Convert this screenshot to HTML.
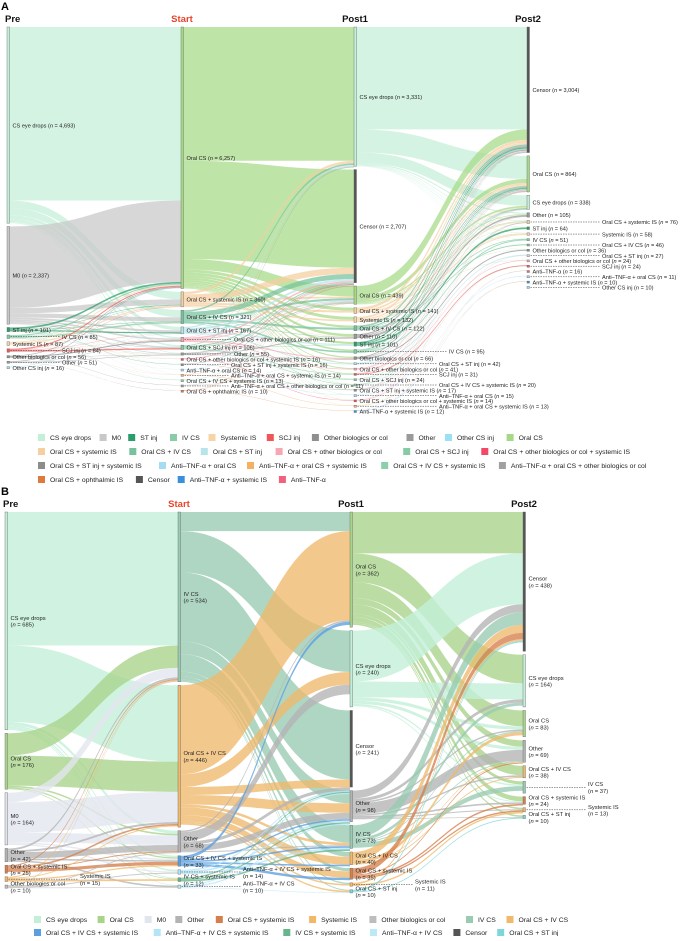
<!DOCTYPE html>
<html><head><meta charset="utf-8">
<style>
html,body{margin:0;padding:0;background:#fff;}
body{width:685px;height:936px;overflow:hidden;font-family:"Liberation Sans",sans-serif;}
svg text{font-family:"Liberation Sans",sans-serif;}
</style></head>
<body>
<svg id="chart" width="685" height="936" viewBox="0 0 685 936" xmlns="http://www.w3.org/2000/svg">
<text x="1" y="10" font-size="11" font-weight="bold">A</text>
<text x="1" y="495" font-size="11" font-weight="bold">B</text>
<g id="gA"></g>
<g id="gB"></g>
</svg>
<script>
// ---------- Panel A data ----------
const aPreNames=["CS eye drops","M0","ST inj","IV CS","Systemic IS","SCJ inj","Other biologics or col","Other","Other CS inj"];
const aPreValues=[4693,2337,101,85,87,84,56,51,16];
const aStartNames=["Oral CS","Oral CS + systemic IS","Oral CS + IV CS","Oral CS + ST inj","Oral CS + other biologics or col","Oral CS + SCJ inj","Other","Oral CS + other biologics or col + systemic IS","Oral CS + ST inj + systemic IS","Anti–TNF-α + oral CS","Anti–TNF-α + oral CS + systemic IS","Oral CS + IV CS + systemic IS","Anti–TNF-α + oral CS + other biologics or col","Oral CS + ophthalmic IS"];
const aStartValues=[6257,360,321,167,111,106,55,16,16,14,14,13,11,10];
const aPost1Names=["CS eye drops","Censor","Oral CS","Oral CS + systemic IS","Systemic IS","Oral CS + IV CS","Other","ST inj","IV CS","Other biologics or col","Oral CS + ST inj","Oral CS + other biologics or col","SCJ inj","Oral CS + SCJ inj","Oral CS + IV CS + systemic IS","Oral CS + ST inj + systemic IS","Anti–TNF-α + oral CS","Oral CS + other biologics or col + systemic IS","Anti–TNF-α + oral CS + systemic IS","Anti–TNF-α + systemic IS"];
const aPost1Values=[3331,2707,439,141,132,122,110,101,95,66,42,41,31,24,20,17,15,14,13,12];
const aPost2Names=["Censor","Oral CS","CS eye drops","Other","Oral CS + systemic IS","ST inj","Systemic IS","IV CS","Oral CS + IV CS","Other biologics or col","Oral CS + ST inj","Oral CS + other biologics or col","SCJ inj","Anti–TNF-α","Anti–TNF-α + oral CS","Anti–TNF-α + systemic IS","Other CS inj"];
const aPost2Values=[3004,864,338,105,76,64,58,51,46,36,27,24,24,16,11,10,10];
// flows: [sourceIndex, targetIndex, patients]
const aFlowPreStart=[[0,0,4150],[0,1,180],[0,2,170],[0,3,80],[0,4,30],[0,5,40],[0,6,15],[0,7,5],[0,8,5],[0,9,5],[0,10,5],[0,11,4],[0,12,2],[0,13,2],
[1,0,1950],[1,1,130],[1,2,100],[1,3,50],[1,4,40],[1,5,30],[1,6,20],[1,7,5],[1,8,4],[1,9,3],[1,10,3],[1,11,2],
[2,0,40],[2,1,10],[2,2,10],[2,3,30],[2,5,5],[2,8,6],[3,0,30],[3,1,8],[3,2,35],[3,6,5],[3,11,7],
[4,0,20],[4,1,30],[4,2,5],[4,6,5],[4,7,5],[4,10,5],[5,0,25],[5,1,5],[5,3,5],[5,4,5],[5,5,30],
[6,0,15],[6,4,25],[6,6,5],[6,12,6],[7,0,15],[7,4,5],[7,6,10],[7,13,5],[8,0,8],[8,3,5]];
const aFlowStartPost1=[[0,0,3200],[0,1,2350],[0,2,250],[0,3,70],[0,4,70],[0,5,50],[0,6,60],[0,7,50],[0,8,40],[0,9,30],[0,10,20],[0,11,20],[0,12,15],[0,13,10],[0,14,8],[0,15,5],[0,16,5],[0,17,4],
[1,0,60],[1,1,150],[1,2,40],[1,3,50],[1,4,40],[1,6,10],[1,17,5],[1,18,5],
[2,0,40],[2,1,120],[2,2,50],[2,5,50],[2,6,11],[2,8,40],[2,14,10],
[3,0,30],[3,1,50],[3,2,30],[3,7,30],[3,10,20],[3,15,7],
[4,0,10],[4,1,35],[4,2,20],[4,6,6],[4,9,25],[4,11,15],
[5,0,20],[5,1,30],[5,2,20],[5,7,7],[5,12,15],[5,13,14],
[6,1,15],[6,2,10],[6,6,20],[6,9,10],[7,1,8],[7,17,8],[8,1,8],[8,15,8],[9,1,6],[9,16,8],[10,1,6],[10,18,8],[11,1,6],[11,14,7],[12,1,6],[12,9,5],[13,1,5],[13,2,5],[13,19,5]];
const aFlowPost1Post2=[[0,0,2450],[0,1,550],[0,2,250],[0,3,30],[0,4,15],[0,5,10],[0,6,10],[0,7,5],[0,8,5],[0,9,5],[0,10,1],
[2,0,250],[2,1,100],[2,2,40],[2,3,15],[2,4,10],[2,5,5],[2,6,5],[2,8,4],[2,9,5],[2,11,5],
[3,0,60],[3,1,40],[3,2,5],[3,4,20],[3,6,10],[4,0,50],[4,1,30],[4,2,10],[4,3,10],[4,6,25],
[5,0,40],[5,1,30],[5,2,10],[5,7,15],[5,8,20],[6,0,30],[6,1,20],[6,2,10],[6,3,40],
[7,0,30],[7,1,20],[7,2,5],[7,5,40],[8,0,30],[8,1,20],[8,2,10],[8,7,25],
[9,0,20],[9,1,10],[9,3,5],[9,9,25],[10,0,10],[10,1,10],[10,10,20],[11,0,10],[11,1,10],[11,11,15],
[12,0,5],[12,1,5],[12,12,20],[13,0,5],[13,1,5],[13,2,5],[13,12,4],[14,0,4],[14,1,5],[14,4,8],
[15,0,4],[15,1,5],[15,4,5],[15,10,3],[16,0,3],[16,14,10],[17,0,3],[17,1,4],[17,4,5],[18,0,3],[18,13,5],[18,15,5],[19,0,3],[19,13,4],[19,15,5]];

// ---------- Panel B data ----------
const bPreNames=["CS eye drops","Oral CS","M0","Other","Oral CS + systemic IS","Systemic IS","Other biologics or col"];
const bPreValues=[685,176,164,42,25,15,10];
const bStartNames=["IV CS","Oral CS + IV CS","Other","Oral CS + IV CS + systemic IS","Anti–TNF-α + IV CS + systemic IS","IV CS + systemic IS","Anti–TNF-α + IV CS"];
const bStartValues=[534,446,68,33,14,12,10];
const bPost1Names=["Oral CS","CS eye drops","Censor","Other","IV CS","Oral CS + IV CS","Oral CS + systemic IS","Systemic IS","Oral CS + ST inj"];
const bPost1Values=[362,240,241,98,73,40,35,11,10];
const bPost2Names=["Censor","CS eye drops","Oral CS","Other","Oral CS + IV CS","IV CS","Oral CS + systemic IS","Systemic IS","Oral CS + ST inj"];
const bPost2Values=[438,164,83,69,38,37,24,13,10];
const bFlowPreStart=[[0,0,420],[0,1,240],[0,2,10],[0,3,5],[0,4,5],[0,5,3],[0,6,2],
[1,0,70],[1,1,95],[1,2,5],[1,3,4],[1,5,2],[2,0,30],[2,1,95],[2,2,30],[2,3,5],[2,4,4],
[3,0,6],[3,1,6],[3,2,20],[3,3,5],[3,6,5],[4,0,3],[4,1,5],[4,2,3],[4,3,10],
[5,0,3],[5,1,3],[5,3,4],[5,5,5],[6,0,2],[6,2,3],[6,4,3],[6,6,2]];
const bFlowStartPost1=[[0,0,60],[0,1,130],[0,2,217],[0,3,40],[0,4,55],[0,5,15],[0,6,10],[0,7,4],[0,8,3],
[1,0,280],[1,1,40],[1,2,25],[1,3,30],[1,4,8],[1,5,25],[1,6,20],[1,7,5],[1,8,5],
[2,0,5],[2,1,30],[2,2,10],[2,3,20],[2,4,3],[3,0,10],[3,3,5],[3,4,5],[3,5,5],[3,6,8],
[4,2,4],[4,3,5],[4,4,5],[5,2,3],[5,3,4],[5,4,5],[6,2,4],[6,3,4],[6,8,2]];
const bFlowPost1Post2=[[0,0,130],[0,1,90],[0,2,50],[0,3,20],[0,4,30],[0,5,10],[0,6,15],[0,7,5],[0,8,5],
[1,0,160],[1,1,50],[1,2,10],[1,3,10],[1,5,5],[1,6,3],
[3,0,25],[3,1,10],[3,2,5],[3,3,35],[3,4,5],[3,6,5],[3,7,3],[3,8,2],
[4,0,40],[4,1,10],[4,2,3],[4,3,3],[4,5,15],[5,0,25],[5,2,10],[5,3,2],[5,4,3],
[6,0,20],[6,3,3],[6,6,5],[6,7,5],[7,0,5],[7,7,5],[8,0,5],[8,8,3]];

const colorsA={"CS eye drops":"#c3efd8","M0":"#c8c8c8","ST inj":"#2a9d6a","IV CS":"#88cca8","Systemic IS":"#f7d3a8","SCJ inj":"#f25555","Other biologics or col":"#8f8f8f","Other":"#9a9a9a","Other CS inj":"#9ddff5","Oral CS":"#a6d985","Oral CS + systemic IS":"#f5cfa0","Oral CS + IV CS":"#76c29c","Oral CS + ST inj":"#b7e3ea","Oral CS + other biologics or col":"#f7a6b4","Oral CS + SCJ inj":"#86cba5","Oral CS + other biologics or col + systemic IS":"#f04a68","Oral CS + ST inj + systemic IS":"#8c8c8c","Anti–TNF-α + oral CS":"#a4dcf6","Anti–TNF-α + oral CS + systemic IS":"#f4b063","Oral CS + IV CS + systemic IS":"#8bcfac","Anti–TNF-α + oral CS + other biologics or col":"#a0a0a0","Oral CS + ophthalmic IS":"#df7a3e","Censor":"#555555","Anti–TNF-α + systemic IS":"#3a8fdc","Anti–TNF-α":"#f2607c"};
const colorsB={"CS eye drops":"#c3efd8","Oral CS":"#a8d48a","M0":"#e3e5ee","Other":"#b3b3b3","Oral CS + systemic IS":"#d67f4b","Systemic IS":"#f2b868","Other biologics or col":"#bdbdbd","IV CS":"#98cbb2","Oral CS + IV CS":"#f0b96c","Oral CS + IV CS + systemic IS":"#5b9fe0","Anti–TNF-α + IV CS + systemic IS":"#b2e5f7","IV CS + systemic IS":"#67b58a","Anti–TNF-α + IV CS":"#bce9f8","Censor":"#555555","Oral CS + ST inj":"#7dd6da"};

const legendA=[["CS eye drops","M0","ST inj","IV CS","Systemic IS","SCJ inj","Other biologics or col","Other","Other CS inj","Oral CS"],
["Oral CS + systemic IS","Oral CS + IV CS","Oral CS + ST inj","Oral CS + other biologics or col","Oral CS + SCJ inj","Oral CS + other biologics or col + systemic IS"],
["Oral CS + ST inj + systemic IS","Anti–TNF-α + oral CS","Anti–TNF-α + oral CS + systemic IS","Oral CS + IV CS + systemic IS","Anti–TNF-α + oral CS + other biologics or col"],
["Oral CS + ophthalmic IS","Censor","Anti–TNF-α + systemic IS","Anti–TNF-α"]];
const legendB=[["CS eye drops","Oral CS","M0","Other","Oral CS + systemic IS","Systemic IS","Other biologics or col","IV CS","Oral CS + IV CS"],
["Oral CS + IV CS + systemic IS","Anti–TNF-α + IV CS + systemic IS","IV CS + systemic IS","Anti–TNF-α + IV CS","Censor","Oral CS + ST inj"]];

const NS="http://www.w3.org/2000/svg";
function mk(tag,attrs,parent){const e=document.createElementNS(NS,tag);for(const k in attrs)e.setAttribute(k,attrs[k]);parent.appendChild(e);return e;}
function fmt(v){return String(v).replace(/\B(?=(\d{3})+(?!\d))/g,",");}

function drawSankey(g,cfg){
  const cols=cfg.cols;
  const layout=cols.map((c,ci)=>{let y=cfg.top;return c.values.map((v,i)=>{const h=Math.max(v*cfg.k,cfg.minH);const n={y:y,h:h,x:cfg.xs[ci],outOff:0,inOff:0,name:c.names[i],v:v};y+=h+cfg.gap;return n;});});
  const linkG=mk('g',{},g);
  
  
  cfg.flows.forEach((flows,fi)=>{
    const S=layout[fi],T=layout[fi+1];
    const sorted=flows.slice().sort((a,b)=>a[0]-b[0]||a[1]-b[1]);
    const pos=sorted.map(f=>{const s=S[f[0]];const y0=s.y+s.outOff;s.outOff+=f[2]*cfg.k;return y0;});
    const order=sorted.map((f,i)=>i).sort((a,b)=>sorted[a][1]-sorted[b][1]||sorted[a][0]-sorted[b][0]);
    const tpos=[];order.forEach(i=>{const t=T[sorted[i][1]];tpos[i]=t.y+t.inOff;t.inOff+=sorted[i][2]*cfg.k;});
    sorted.forEach((f,i)=>{
      const s=S[f[0]],t=T[f[1]],w=f[2]*cfg.k;
      const x0=s.x+cfg.nw,x1=t.x,m=(x0+x1)/2,y0=pos[i],y1=tpos[i];
      const p=mk('path',{d:`M${x0},${y0}C${m},${y0} ${m},${y1} ${x1},${y1}L${x1},${y1+w}C${m},${y1+w} ${m},${y0+w} ${x0},${y0+w}Z`,fill:cfg.colors[s.name]||'#aaa','fill-opacity':cfg.op},linkG);
      
      
    });
  });
  layout.forEach((col,ci)=>{
    col.forEach((n,i)=>{
      const r=mk('rect',{x:n.x,y:n.y,width:cfg.nw,height:n.h,fill:cfg.colors[n.name]||'#999',stroke:'#666','stroke-width':0.4},g);
      
      
      const lead=(cfg.leads[ci]&&cfg.leads[ci][i])||0;
      let lx=n.x+cfg.nw+3;const cy=n.y+n.h/2;
      if(lead>0){const l=mk('line',{x1:n.x+cfg.nw+1,y1:cy,x2:n.x+lead-2,y2:cy,stroke:'#333','stroke-width':0.5,'stroke-dasharray':'1.5,1'},g);
        
        
        lx=n.x+lead;}
      const t=mk('text',{x:lx,y:cfg.twoLine?cy-1:cy+2.2,'font-size':cfg.fs,fill:'#222'},g);
      
      
      if(cfg.twoLine){
        const a=mk('tspan',{x:lx},t);a.textContent=n.name;
        const b=mk('tspan',{x:lx,dy:cfg.fs+1},t);b.textContent='(';
        const it=mk('tspan',{'font-style':'italic'},t);it.textContent='n';
        const c=mk('tspan',{},t);c.textContent=' = '+fmt(n.v)+')';
      } else {
        const a=mk('tspan',{},t);a.textContent=n.name+' (';
        const it=mk('tspan',{'font-style':'italic'},t);it.textContent='n';
        const c=mk('tspan',{},t);c.textContent=' = '+fmt(n.v)+')';
      }
    });
  });
  const heads=["Pre","Start","Post1","Post2"];
  heads.forEach((h,i)=>{
    const t=mk('text',{x:i==0?cfg.xs[0]-2:cfg.xs[i]+1,y:cfg.headY,'font-size':9.5,'font-weight':'bold','text-anchor':i==0?'start':'middle',fill:i==1?'#e8442c':'#111'},g);
    
    
    t.textContent=h;
  });
  cfg.legend.forEach((row,ri)=>{
    let x=cfg.legX;
    row.forEach(name=>{
      const y=cfg.legY[ri];
      const r=mk('rect',{x:x,y:y-6,width:7,height:7,fill:cfg.colors[name]},g);
      
      
      const t=mk('text',{x:x+12,y:y,'font-size':6.8,fill:'#222'},g);
      
      
      t.textContent=name;
      x+=12+name.length*3.3+cfg.legGap;
    });
  });
}

drawSankey(document.getElementById('gA'),{
  cols:[{names:aPreNames,values:aPreValues},{names:aStartNames,values:aStartValues},{names:aPost1Names,values:aPost1Values},{names:aPost2Names,values:aPost2Values}],
  flows:[aFlowPreStart,aFlowStartPost1,aFlowPost1Post2],
  k:0.0418,top:27,gap:3.3,minH:2,nw:2.5,xs:[7,181,354,527],colors:colorsA,op:0.72,fs:5.6,twoLine:false,headY:22,
  leads:[[0,0,0,55,0,55,0,55,0],[0,0,0,0,53,0,53,0,50,0,50,0,50,0],[0,0,0,0,0,0,0,0,95,0,85,0,85,0,85,0,85,0,85,0],[0,0,0,0,75,0,75,0,75,0,75,0,75,0,75,0,75]],
  legend:legendA,legX:38,legY:[440,454,468,482],legGap:10
});
drawSankey(document.getElementById('gB'),{
  cols:[{names:bPreNames,values:bPreValues},{names:bStartNames,values:bStartValues},{names:bPost1Names,values:bPost1Values},{names:bPost2Names,values:bPost2Values}],
  flows:[bFlowPreStart,bFlowStartPost1,bFlowPost1Post2],
  k:0.318,top:512,gap:3.5,minH:2,nw:2.5,xs:[5,178,350,523],colors:colorsB,op:0.78,fs:5.8,twoLine:true,headY:507,
  leads:[[0,0,0,0,0,75,0],[0,0,0,0,65,0,65],[0,0,0,0,0,0,0,65,0],[0,0,0,0,0,65,0,65,0]],
  legend:legendB,legX:34,legY:[922,935],legGap:12
});
</script>
</body></html>
